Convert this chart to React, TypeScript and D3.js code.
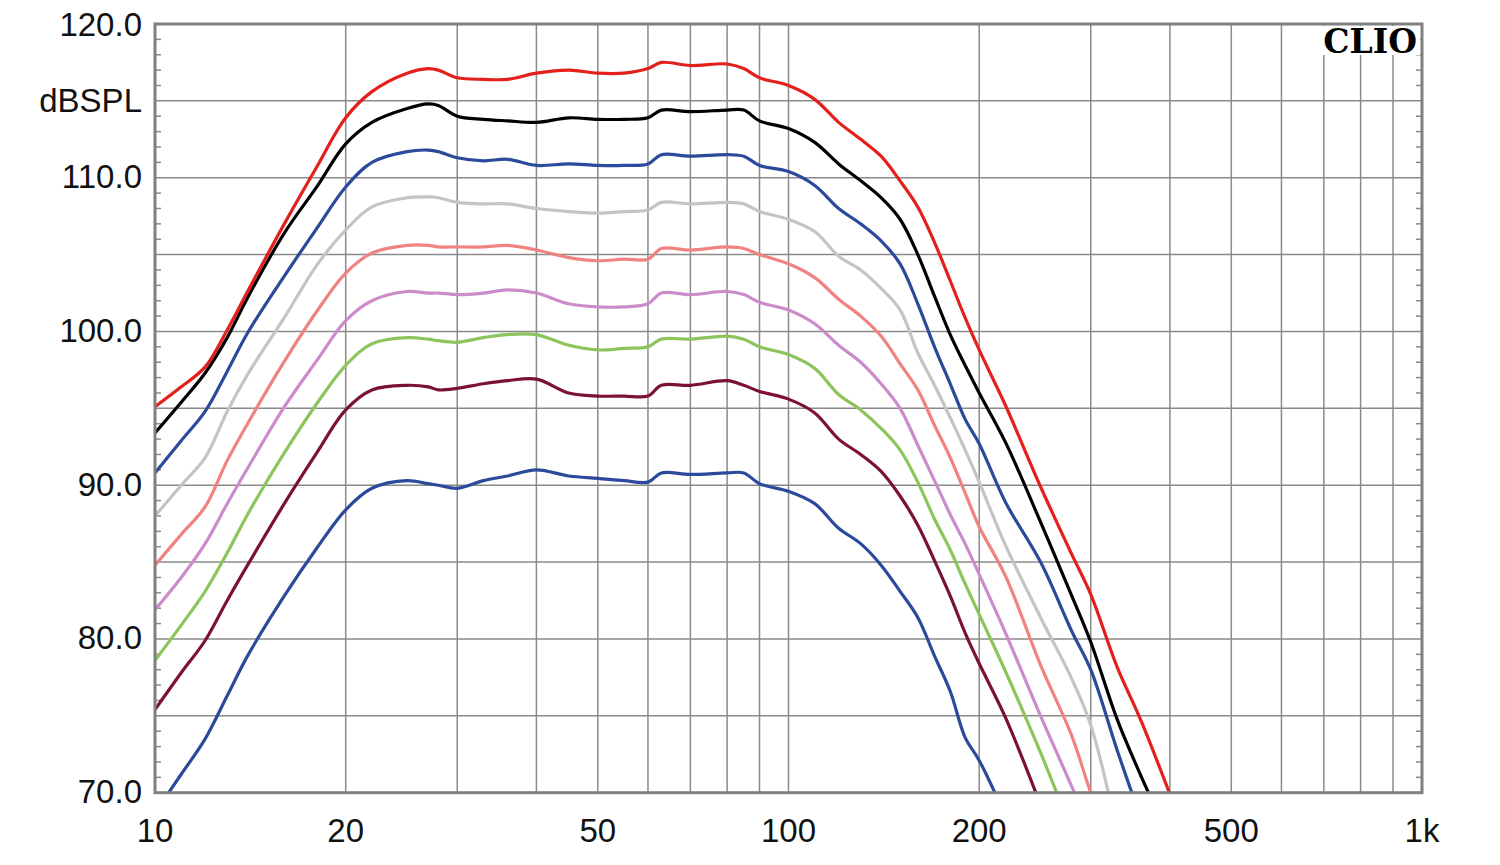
import React from "react";
import * as d3 from "d3";

// Shared frequency grid (Hz)
const FREQS = [10, 11, 12, 13, 14, 16, 18, 20, 22, 25, 27, 28, 30, 33, 36, 40, 45, 50, 55, 60, 63, 70, 80, 85, 90, 100, 110, 120, 130, 140, 150, 160, 170, 180, 190, 200, 220, 250, 280, 300, 330, 360, 400];

// Series values (dBSPL), aligned with FREQS from the start
const RED = [95.1, 96.4, 97.7, 100.1, 102.6, 107.0, 110.7, 113.9, 115.6, 116.8, 117.1, 117.0, 116.5, 116.4, 116.4, 116.8, 117.0, 116.8, 116.8, 117.1, 117.5, 117.3, 117.4, 117.1, 116.5, 116.0, 115.1, 113.6, 112.5, 111.4, 109.8, 108.1, 105.8, 103.3, 100.9, 98.8, 95.2, 89.9, 85.5, 82.9, 78.2, 74.7, 69.9];
const BLACK = [93.4, 95.4, 97.3, 99.6, 102.2, 106.4, 109.4, 112.2, 113.6, 114.5, 114.8, 114.7, 114.0, 113.8, 113.7, 113.6, 113.9, 113.8, 113.8, 113.9, 114.4, 114.3, 114.4, 114.4, 113.7, 113.2, 112.3, 110.9, 109.8, 108.7, 107.3, 105.0, 102.3, 99.8, 97.8, 96.0, 92.8, 87.6, 82.8, 79.8, 74.8, 71.1, 67.0];
const BLUE_TOP = [90.8, 92.9, 94.8, 97.4, 99.9, 103.6, 106.7, 109.4, 111.0, 111.7, 111.8, 111.7, 111.3, 111.1, 111.2, 110.8, 110.9, 110.8, 110.8, 110.9, 111.5, 111.4, 111.5, 111.4, 110.8, 110.4, 109.5, 108.0, 107.0, 105.9, 104.4, 101.8, 99.0, 96.6, 94.3, 92.7, 88.9, 85.0, 80.5, 78.0, 72.8, 68.3];
const GRAY = [88.0, 90.0, 91.8, 94.8, 97.2, 100.9, 104.3, 106.6, 108.1, 108.7, 108.75, 108.7, 108.4, 108.3, 108.3, 108.0, 107.8, 107.7, 107.8, 107.9, 108.4, 108.3, 108.4, 108.3, 107.8, 107.3, 106.5, 104.9, 104.0, 102.8, 101.4, 98.6, 96.5, 94.4, 92.3, 90.2, 86.1, 81.4, 77.4, 74.4, 67.5];
const SALMON = [84.8, 86.8, 88.6, 91.6, 94.0, 98.05, 101.3, 103.8, 105.1, 105.6, 105.6, 105.5, 105.5, 105.5, 105.6, 105.3, 104.8, 104.6, 104.7, 104.7, 105.4, 105.3, 105.5, 105.4, 105.0, 104.4, 103.5, 102.1, 101.0, 99.7, 97.9, 96.2, 93.9, 91.8, 89.5, 87.3, 84.1, 78.3, 73.7, 70.0, 65.5];
const VIOLET = [81.9, 84.0, 86.2, 88.8, 91.1, 95.1, 98.1, 100.7, 102.0, 102.6, 102.5, 102.5, 102.4, 102.5, 102.7, 102.5, 101.8, 101.6, 101.6, 101.8, 102.5, 102.4, 102.6, 102.4, 101.9, 101.4, 100.5, 99.1, 98.0, 96.6, 95.0, 92.6, 90.3, 88.1, 86.2, 84.2, 80.4, 75.0, 70.4, 67.5];
const GREEN = [78.6, 80.9, 83.1, 85.6, 88.1, 92.1, 95.3, 97.8, 99.2, 99.6, 99.5, 99.4, 99.3, 99.6, 99.8, 99.8, 99.1, 98.8, 98.9, 99.0, 99.5, 99.5, 99.7, 99.5, 99.0, 98.5, 97.6, 95.9, 94.9, 93.7, 92.3, 90.2, 87.8, 85.8, 83.6, 81.6, 77.9, 72.6, 67.5];
const MAROON = [75.4, 77.8, 79.9, 82.5, 84.8, 88.8, 92.1, 94.9, 96.2, 96.5, 96.4, 96.2, 96.3, 96.6, 96.8, 96.9, 96.0, 95.8, 95.8, 95.8, 96.5, 96.5, 96.8, 96.5, 96.1, 95.6, 94.7, 93.0, 92.0, 90.9, 89.3, 87.4, 85.1, 82.8, 80.4, 78.4, 74.9, 69.2];
const BLUE_BOTTOM = [68.7, 71.2, 73.5, 76.3, 78.9, 82.8, 85.9, 88.4, 89.8, 90.3, 90.1, 90.0, 89.8, 90.3, 90.6, 91.0, 90.6, 90.45, 90.3, 90.2, 90.8, 90.7, 90.8, 90.8, 90.1, 89.6, 88.8, 87.2, 86.2, 84.8, 83.1, 81.4, 78.9, 76.6, 73.6, 72.1, 68.5];

const SERIES_VALUES = [BLUE_BOTTOM, MAROON, GREEN, VIOLET, SALMON, GRAY, BLUE_TOP, BLACK, RED];
const SERIES_COLORS = ["#2b4a9b", "#7b1235", "#8dc45c", "#cc8ccc", "#f08282", "#c4c4c4", "#2b4a9b", "#000000", "#e3201b"];

const Y_TICKS = [120, 110, 100, 90, 80, 70];
const Y_TICK_LABELS = ["120.0", "110.0", "100.0", "90.0", "80.0", "70.0"];
const X_TICKS = [10, 20, 50, 100, 200, 500, 1000];
const X_TICK_LABELS = ["10", "20", "50", "100", "200", "500", "1k"];
const UNIT_LABEL = "dBSPL";
const BRAND = "CLIO";

export default function App() {
  const W = 1500, H = 865;
  const L = 155, R = 1422, T = 24, B = 792.7;
  const x = d3.scaleLog().domain([10, 1000]).range([L, R]);
  const y = d3.scaleLinear().domain([70, 120]).range([B, T]);

  const gridX: number[] = [];
  for (const dec of [10, 100]) for (let k = 1; k <= 9; k++) {
    const f = dec * k;
    if (f > 10 && f < 1000) gridX.push(f);
  }
  const gridY = d3.range(75, 120, 5);
  const minorY = d3.range(71, 120, 1).filter((v) => v % 5 !== 0);

  const line = d3
    .line<[number, number]>()
    .x((d) => x(d[0]))
    .y((d) => y(d[1]))
    .curve(d3.curveCatmullRom.alpha(0.5));

  const font = "'Liberation Sans', Arial, sans-serif";

  return (
    <svg width={W} height={H} style={{ position: "absolute", left: 0, top: 0, background: "#fff" }}>
      <defs>
        <clipPath id="plotClip">
          <rect x={L} y={T} width={R - L} height={B - T} />
        </clipPath>
      </defs>
      <rect x={0} y={0} width={W} height={H} fill="#fff" />
      {gridX.map((f) => (
        <line key={"gx" + f} x1={x(f)} x2={x(f)} y1={T} y2={B} stroke="#8a8a8a" strokeWidth={1.5} />
      ))}
      {gridY.map((v) => (
        <line key={"gy" + v} x1={L} x2={R} y1={y(v)} y2={y(v)} stroke="#8a8a8a" strokeWidth={1.5} />
      ))}
      {minorY.map((v) => (
        <g key={"my" + v}>
          <line x1={L} x2={L + 6} y1={y(v)} y2={y(v)} stroke="#8a8a8a" strokeWidth={1.5} />
          <line x1={R - 6} x2={R} y1={y(v)} y2={y(v)} stroke="#8a8a8a" strokeWidth={1.5} />
        </g>
      ))}
      <rect x={1321} y={26} width={99} height={29} fill="#fff" />
      <g clipPath="url(#plotClip)">
        {SERIES_VALUES.map((vals, i) => {
          const pts = vals.map((v, j) => [FREQS[j], v] as [number, number]);
          return (
            <path key={"s" + i} d={line(pts) || ""} fill="none" stroke={SERIES_COLORS[i]} strokeWidth={3.2} strokeLinejoin="round" />
          );
        })}
      </g>
      <rect x={L} y={T} width={R - L} height={B - T} fill="none" stroke="#808080" strokeWidth={3} />
      <text x={1417} y={53} textAnchor="end" fontFamily="'DejaVu Serif', serif" fontWeight="bold" fontSize={33} fill="#000">
        {BRAND}
      </text>
      {Y_TICKS.map((v, i) => (
        <text key={"yl" + v} x={142} y={y(v) + (v === 120 ? 12 : 10.5)} textAnchor="end" fontFamily={font} fontSize={33} fill="#111">
          {Y_TICK_LABELS[i]}
        </text>
      ))}
      <text x={142} y={y(115) + 11} textAnchor="end" fontFamily={font} fontSize={33} fill="#111">
        {UNIT_LABEL}
      </text>
      {X_TICKS.map((f, i) => (
        <text key={"xl" + f} x={x(f)} y={842} textAnchor="middle" fontFamily={font} fontSize={33} fill="#111">
          {X_TICK_LABELS[i]}
        </text>
      ))}
    </svg>
  );
}
